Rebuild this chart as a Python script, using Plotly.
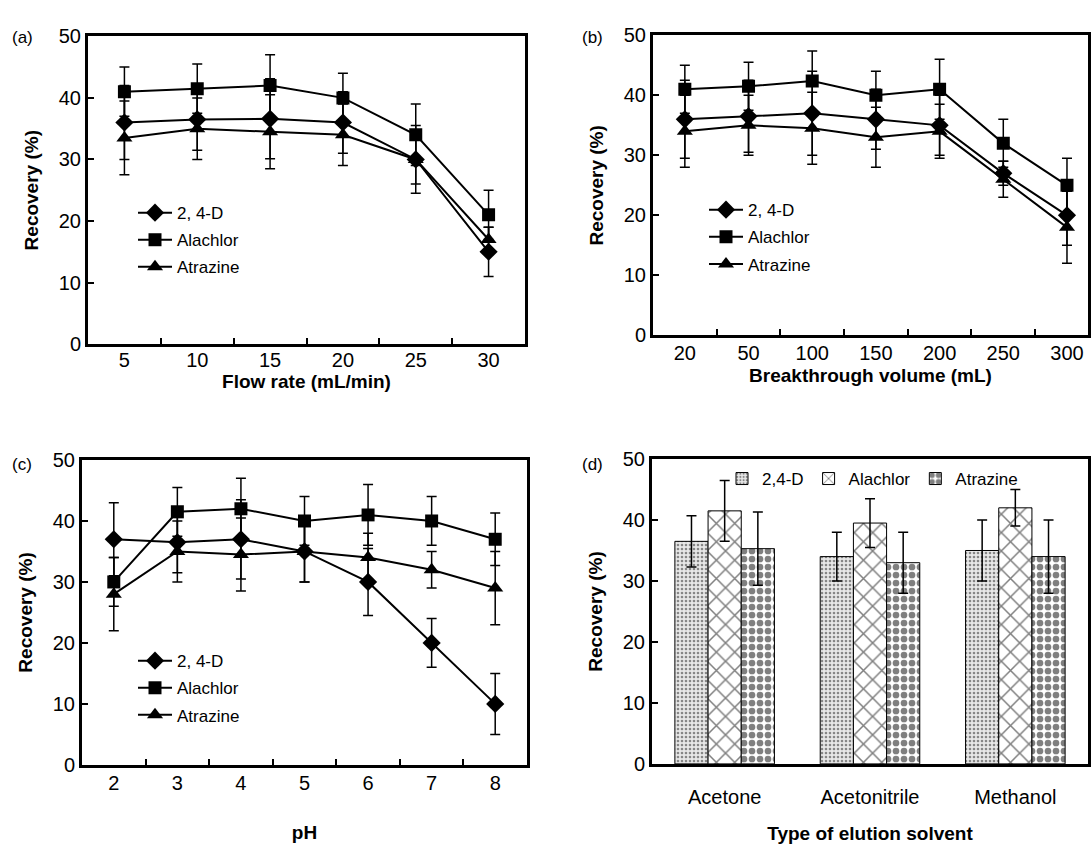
import plotly.graph_objects as go

W, H = 1092, 846

# ---------------- data ----------------
series_names = ["2, 4-D", "Alachlor", "Atrazine"]

flow_rate = ["5", "10", "15", "20", "25", "30"]
a_24d = [36, 36.5, 36.6, 36, 30, 15]
a_24d_err = [6, 5, 6.5, 5, 4, 4]
a_alachlor = [41, 41.5, 42, 40, 34, 21]
a_alachlor_err = [4, 4, 5, 4, 5, 4]
a_atrazine = [33.5, 35, 34.5, 34, 30, 17]
a_atrazine_err = [6, 5, 6, 5, 5.5, 2]

volume = ["20", "50", "100", "150", "200", "250", "300"]
b_24d = [36, 36.5, 37, 36, 35, 27, 20]
b_24d_err = [6.5, 6, 7, 5, 5, 2, 5]
b_alachlor = [41, 41.5, 42.4, 40, 41, 32, 25]
b_alachlor_err = [4, 4, 5, 4, 5, 4, 4.5]
b_atrazine = [34, 35, 34.5, 33, 34, 26, 18]
b_atrazine_err = [6, 5, 6, 5, 4.5, 3, 6]

ph = ["2", "3", "4", "5", "6", "7", "8"]
c_24d = [37, 36.5, 37, 35, 30, 20, 10]
c_24d_err = [6, 5, 6.5, 5, 5.5, 4, 5]
c_alachlor = [30, 41.5, 42, 40, 41, 40, 37]
c_alachlor_err = [4, 4, 5, 4, 5, 4, 4.3]
c_atrazine = [28, 35, 34.5, 35, 34, 32, 29]
c_atrazine_err = [6, 5, 6, 5, 4, 3, 6]

solvents = ["Acetone", "Acetonitrile", "Methanol"]
d_24d = [36.5, 34, 35]
d_24d_err = [4.2, 4, 5]
d_alachlor = [41.5, 39.5, 42]
d_alachlor_err = [5, 4, 3]
d_atrazine = [35.3, 33, 34]
d_atrazine_err = [6, 5, 6]

y_ticks = [0, 10, 20, 30, 40, 50]

# ---------------- helpers ----------------
FONT = "Liberation Sans, Arial, sans-serif"
symbols = ["diamond", "square", "triangle-up"]
msizes = [14, 13, 14]


def px_x(p):
    return p / W


def px_y(p):
    return 1 - p / H


fig = go.Figure()


def add_lines(xcats, ys, errs, xa, ya, legend, grp):
    for i, (name, y, e) in enumerate(zip(series_names, ys, errs)):
        fig.add_trace(go.Scatter(
            x=xcats, y=y, name=name, mode="lines+markers",
            xaxis=xa, yaxis=ya, legend=legend, legendgroup=f"{grp}{i}",
            line=dict(color="black", width=2),
            marker=dict(symbol=symbols[i], size=msizes[i], color="black"),
            error_y=dict(type="data", array=e, symmetric=True,
                         color="black", thickness=1.5, width=5),
        ))


add_lines(flow_rate, [a_24d, a_alachlor, a_atrazine],
          [a_24d_err, a_alachlor_err, a_atrazine_err], "x", "y", "legend", "a")
add_lines(volume, [b_24d, b_alachlor, b_atrazine],
          [b_24d_err, b_alachlor_err, b_atrazine_err], "x2", "y2", "legend2", "b")
add_lines(ph, [c_24d, c_alachlor, c_atrazine],
          [c_24d_err, c_alachlor_err, c_atrazine_err], "x3", "y3", "legend3", "c")

patterns = [
    dict(shape=".", size=4, solidity=0.35, fgcolor="#222222", bgcolor="#e8e8e8"),
    dict(shape="x", size=13, solidity=0.22, fgcolor="black", bgcolor="white"),
    dict(shape=".", size=8, solidity=0.55, fgcolor="black", bgcolor="white"),
]
for i, (name, y, e) in enumerate(zip(series_names,
                                     [d_24d, d_alachlor, d_atrazine],
                                     [d_24d_err, d_alachlor_err, d_atrazine_err])):
    fig.add_trace(go.Bar(
        x=solvents, y=y, name=name.replace(", ", ","), xaxis="x4", yaxis="y4",
        legend="legend4",
        marker=dict(color="white", pattern=patterns[i],
                    line=dict(color="black", width=1)),
        error_y=dict(type="data", array=e, symmetric=True,
                     color="black", thickness=1.5, width=5),
    ))

# ---------------- axes ----------------
tickfont = dict(family=FONT, size=20, color="black")
titlefont = dict(family=FONT, size=19, color="black", weight="bold")


def xaxis(domain, anchor, rng, title, standoff, ticks="inside", labelgap=0):
    return dict(domain=domain, anchor=anchor, type="category", range=rng,
                showline=True, mirror=True, linewidth=3, linecolor="black",
                ticks=ticks, ticklen=6, tickwidth=1.5, tickcolor="black",
                tickson="boundaries", showgrid=False, zeroline=False,
                tickfont=tickfont, ticklabelstandoff=labelgap,
                title=dict(text=title, font=titlefont, standoff=standoff))


def yaxis(domain, anchor, standoff):
    return dict(domain=domain, anchor=anchor, range=[0, 50], tickvals=y_ticks,
                showline=True, mirror=True, linewidth=3, linecolor="black",
                ticks="inside", ticklen=6, tickwidth=1.5, tickcolor="black",
                showgrid=False, zeroline=False, tickfont=tickfont,
                title=dict(text="Recovery (%)", font=titlefont, standoff=standoff))


dom_a_x = [px_x(88), px_x(525)]
dom_a_y = [px_y(342), px_y(26)]
dom_b_x = [px_x(653), px_x(1088)]
dom_b_y = [px_y(333), px_y(25)]
dom_c_x = [px_x(82), px_x(527)]
dom_c_y = [px_y(774), px_y(461)]
dom_d_x = [px_x(652), px_x(1088)]
dom_d_y = [px_y(773), px_y(460)]

legend_common = dict(font=dict(family=FONT, size=17, color="black"),
                     bgcolor="rgba(0,0,0,0)", borderwidth=0,
                     xanchor="left", yanchor="top", tracegroupgap=2,
                     itemwidth=34,
                     itemclick=False, itemdoubleclick=False)

fig.update_layout(
    width=W, height=H,
    margin=dict(l=0, r=0, t=0, b=0),
    paper_bgcolor="white", plot_bgcolor="white",
    font=dict(family=FONT, color="black"),
    xaxis=xaxis(dom_a_x, "y", [-0.5, 5.5], "Flow rate (mL/min)", 0, labelgap=-4),
    yaxis=yaxis(dom_a_y, "x", 16),
    xaxis2=xaxis(dom_b_x, "y2", [-0.5, 6.33], "Breakthrough volume (mL)", 6, labelgap=-2),
    yaxis2=yaxis(dom_b_y, "x2", 16),
    xaxis3=xaxis(dom_c_x, "y3", [-0.5, 6.5], "pH", 33, labelgap=-2),
    yaxis3=yaxis(dom_c_y, "x3", 16),
    xaxis4=xaxis(dom_d_x, "y4", [-0.5, 2.5], "Type of elution solvent", 20,
                 ticks="", labelgap=13),
    yaxis4=yaxis(dom_d_y, "x4", 16),
    barmode="group", bargap=0.315, bargroupgap=0,
    legend=dict(x=px_x(133), y=px_y(189), **legend_common),
    legend2=dict(x=px_x(704), y=px_y(186), **legend_common),
    legend3=dict(x=px_x(133), y=px_y(649), **legend_common),
    legend4=dict(x=px_x(722), y=px_y(462), orientation="h",
                 font=dict(family=FONT, size=17, color="black"),
                 bgcolor="rgba(0,0,0,0)", xanchor="left", yanchor="top",
                 itemclick=False, itemdoubleclick=False),
    showlegend=True,
)

panel_labels = [("(a)", 10, 27), ("(b)", 580, 27), ("(c)", 10, 466), ("(d)", 580, 466)]
for txt, x, y in panel_labels:
    fig.add_annotation(text=txt, x=px_x(x), y=px_y(y), xref="paper", yref="paper",
                       xanchor="left", yanchor="middle", showarrow=False,
                       font=dict(family=FONT, size=17, color="black"))

fig.write_html(
    "out.html",
    config={"displayModeBar": False},
    post_script="document.body.style.margin='0';document.body.style.overflow='hidden';",
)
